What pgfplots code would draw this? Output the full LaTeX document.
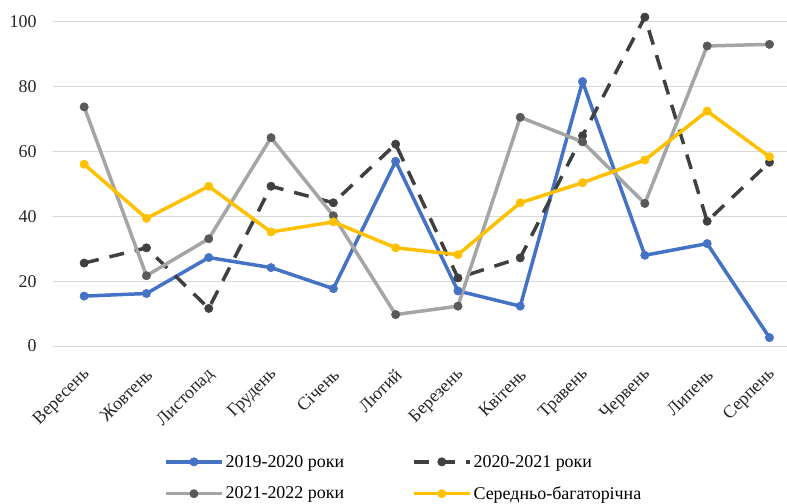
\documentclass[border=0pt]{standalone}
\usepackage{pgfplots}
\pgfplotsset{compat=1.18}
\usepackage{fontspec}
\setmainfont{Liberation Serif}

\definecolor{sBlue}{HTML}{4472C4}
\definecolor{sDark}{HTML}{404040}
\definecolor{sGray}{HTML}{A5A5A5}
\definecolor{sGrayMark}{HTML}{595959}
\definecolor{sGold}{HTML}{FFC000}
\definecolor{gridGray}{HTML}{D9D9D9}

% Monthly values, September to August
\pgfplotstableread{
x  a     b      c     d
0  15.4  25.6   73.8  56.1
1  16.2  30.3   21.7  39.4
2  27.3  11.6   33.1  49.3
3  24.2  49.3   64.3  35.2
4  17.7  44.2   40.2  38.3
5  57.0  62.3    9.7  30.3
6  17.0  21.0   12.3  28.2
7  12.3  27.2   70.6  44.2
8  81.6  64.9   63.0  50.4
9  28.0  101.5  44.0  57.4
10 31.6  38.5   92.6  72.5
11  2.6  56.7   93.1  58.4
}\seasons

\begin{document}
\begin{tikzpicture}
\useasboundingbox (0,0) rectangle (787bp,504bp);
\clip (0,0) rectangle (787bp,504bp);
\begin{axis}[
  at={(53bp,158bp)}, anchor=south west,
  scale only axis,
  width=747.6bp, height=324bp,
  xmin=-0.5, xmax=11.5,
  ymin=0, ymax=100,
  clip=false,
  axis line style={draw=none},
  tick style={draw=none},
  ytick={0,20,...,100},
  ymajorgrids,
  grid style={gridGray, line width=1bp},
  xtick={0,...,11},
  xticklabels={Вересень,Жовтень,Листопад,Грудень,Січень,Лютий,Березень,Квітень,Травень,Червень,Липень,Серпень},
  ticklabel style={font=\fontsize{18}{21}\selectfont, text=black!85},
  /pgf/number format/assume math mode=true,
  yticklabel style={xshift=-13bp},
  xticklabel style={xshift=3bp, yshift=-26bp, rotate=45, anchor=east, inner sep=0pt},
  legend style={
    draw=none, fill=none,
    at={(108bp,-132bp)}, anchor=west,
    font=\fontsize{18}{21}\selectfont,
    legend columns=2,
    legend cell align=left,
    /tikz/every even column/.append style={column sep=66bp},
    row sep=14bp,
  },
  legend image code/.code={
    \draw[mark repeat=2, mark phase=2, #1]
      plot coordinates {(0bp,0bp) (28bp,0bp) (56bp,0bp)};
  },
  every axis plot/.append style={line width=3.5bp, mark=*, mark size=4.2bp, line join=round},
]
\addplot[sBlue, mark options={fill=sBlue, draw=sBlue, line width=0.5bp}] table[x=x, y=a] {\seasons};
\addlegendentry{2019-2020 роки}
\addplot[sDark, dash pattern=on 15bp off 11bp, mark options={solid, fill=sDark, draw=sDark, line width=0.5bp}] table[x=x, y=b] {\seasons};
\addlegendentry{2020-2021 роки}
\addplot[sGray, mark options={fill=sGrayMark, draw=sGrayMark, line width=0.5bp}] table[x=x, y=c] {\seasons};
\addlegendentry{2021-2022 роки}
\addplot[sGold, mark options={fill=sGold, draw=sGold, line width=0.5bp}] table[x=x, y=d] {\seasons};
\addlegendentry{Середньо-багаторічна}
\end{axis}
\end{tikzpicture}
\end{document}
